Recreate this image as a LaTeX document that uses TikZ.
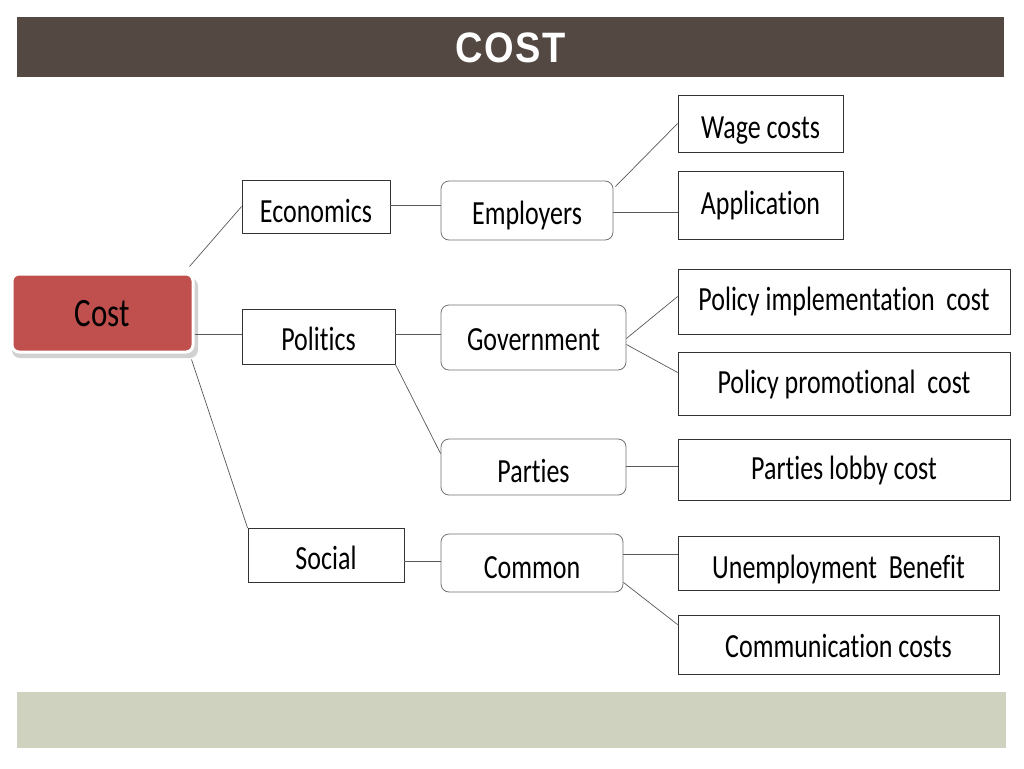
\documentclass[tikz,border=0pt]{standalone}
\usepackage{fontspec}
\setmainfont[Ligatures=NoCommon]{Carlito}
\newfontfamily\titlefont[LetterSpace=4]{Liberation Sans}
\usetikzlibrary{calc}
\definecolor{titlebg}{HTML}{544842}
\definecolor{footbg}{HTML}{CFD2BE}
\definecolor{costred}{HTML}{C0504D}
\definecolor{linegray}{HTML}{595959}
\newcommand\vtx[1]{\scalebox{1}[1.3]{#1}}
\tikzset{
  th/.style={text height=#1, text depth=0pt},
  sqbox/.style={draw=black!80, line width=0.8pt, inner sep=0pt, font=\fontsize{26}{30}\selectfont},
  rdbox/.style={draw=black!55, line width=0.8pt, rounded corners=8pt, inner sep=0pt, fill=white,
     font=\fontsize{26}{30}\selectfont},
  link/.style={draw=linegray, line width=0.7pt},
}
\begin{document}
\begin{tikzpicture}[x=1pt,y=-1pt]
\useasboundingbox (0,0) rectangle (1024,768);
\fill[white] (0,0) rectangle (1024,768);
% title bar
\fill[titlebg] (17,17) rectangle (1004,77);
\node[text=white, font=\titlefont\bfseries\fontsize{38}{42}\selectfont] (title) at (511,48) {\scalebox{1}[1.12]{COST}};
% footer bar
\fill[footbg] (17,692) rectangle (1006,748);
% Cost node
\fill[black!18, rounded corners=8pt] (12,278) rectangle (198,358);
\node[draw=white, line width=3pt, fill=costred, rounded corners=7pt, minimum width=181pt, minimum height=78pt,
      inner sep=0pt, th=26pt, font=\fontsize{31}{36}\selectfont] (cost) at (102.5,313) {\vtx{Cost}};
% level 1
\node[sqbox, th=31pt, minimum width=148pt, minimum height=53pt] (econ) at (316,206.5) {\vtx{Economics}};
\node[sqbox, th=27pt, minimum width=153pt, minimum height=55pt] (pol) at (318.5,336.5) {\vtx{Politics}};
\node[sqbox, th=28pt, minimum width=156pt, minimum height=54pt] (soc) at (326,555.5) {\vtx{Social}};
% level 2
\node[rdbox, th=28pt, minimum width=172pt, minimum height=59pt] (emp) at (527,210.5) {\vtx{Employers}};
\node[rdbox, th=25pt, minimum width=185pt, minimum height=65pt] (gov) at (533.5,337.5) {\vtx{Government}};
\node[rdbox, th=30pt, minimum width=185pt, minimum height=56pt] (par) at (533.5,467) {\vtx{Parties}};
\node[rdbox, th=30pt, minimum width=182pt, minimum height=58pt] (com) at (532,563) {\vtx{Common}};
% level 3
\node[sqbox, th=29pt, minimum width=165pt, minimum height=57pt] (wage) at (760.5,123.5) {\vtx{Wage costs}};
\node[sqbox, th=18pt, minimum width=165pt, minimum height=68pt] (app) at (760.5,205) {\vtx{Application}};
\node[sqbox, th=18pt, minimum width=332pt, minimum height=65pt] (pi) at (844,301.5) {\vtx{Policy implementation\ \ cost}};
\node[sqbox, th=20pt, minimum width=332pt, minimum height=63pt] (pp) at (844,383.5) {\vtx{Policy promotional\ \ cost}};
\node[sqbox, th=20pt, minimum width=332pt, minimum height=61pt] (lobby) at (844,469.5) {\vtx{Parties lobby cost}};
\node[sqbox, th=30pt, minimum width=321pt, minimum height=54pt] (unemp) at (838.5,563) {\vtx{Unemployment\ \ Benefit}};
\node[sqbox, th=25pt, minimum width=321pt, minimum height=59pt] (comm) at (838.5,644.5) {\vtx{Communication costs}};
% connectors
\draw[link] ($(cost.north east)+(-5,-6)$) -- (econ.west);
\draw[link] (cost.east |- 0,334) -- (pol.west |- 0,334);
\draw[link] ($(cost.south east)+(-3,6)$) -- (soc.north west);
\draw[link] (econ.east |- 0,205) -- (emp.west |- 0,205);
\draw[link] (pol.east |- 0,334) -- (gov.west |- 0,334);
\draw[link] (pol.south east) -- ($(par.north west)+(0,15)$);
\draw[link] (soc.east |- 0,561) -- (com.west |- 0,561);
\draw[link] ($(emp.north east)+(2,6)$) -- (wage.west);
\draw[link] (emp.east |- 0,212) -- (app.west |- 0,212);
\draw[link] ($(gov.east)+(0,1)$) -- ($(pi.west)+(0,-5)$);
\draw[link] ($(gov.east)+(0,7)$) -- ($(pp.west)+(0,-11)$);
\draw[link] (par.east |- 0,466) -- (lobby.west |- 0,466);
\draw[link] (com.east |- 0,554) -- (unemp.west |- 0,554);
\draw[link] ($(com.south east)+(0,-10)$) -- ($(comm.north west)+(0,10)$);
\end{tikzpicture}
\end{document}
